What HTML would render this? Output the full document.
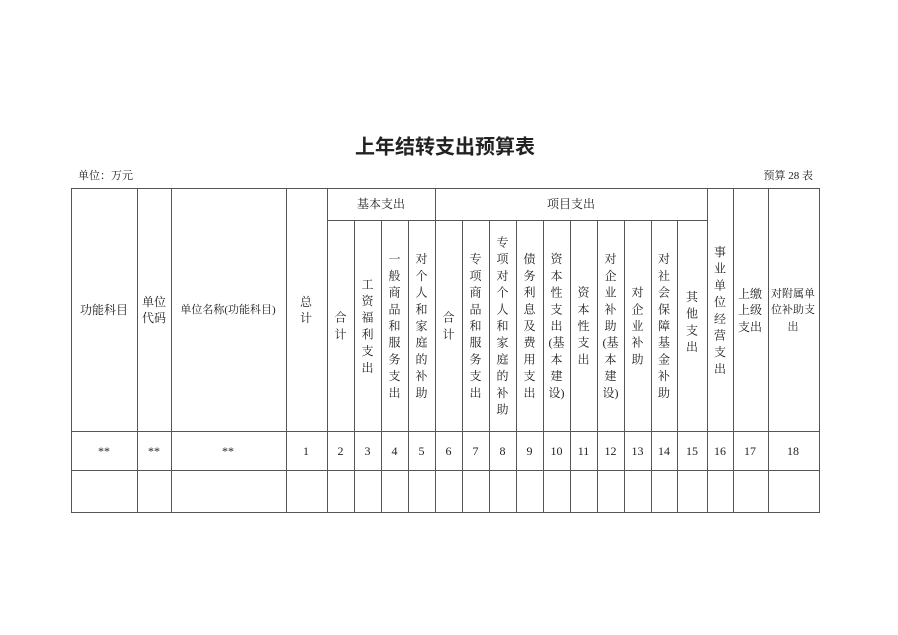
<!DOCTYPE html>
<html><head><meta charset="utf-8"><style>
body{margin:0;background:#fff;}
svg{display:block;}
text{font-family:"Liberation Serif","Noto Serif CJK SC",serif;fill:#222;}
</style></head><body>
<svg width="898" height="635" viewBox="0 0 898 635" xmlns="http://www.w3.org/2000/svg">
<text x="445" y="145" font-size="20" font-weight="bold" text-anchor="middle" dominant-baseline="central" style="font-family:'Noto Sans CJK SC',sans-serif">上年结转支出预算表</text>
<text x="78" y="176" font-size="11" dominant-baseline="central">单位：万元</text>
<text x="813" y="176" font-size="11" text-anchor="end" dominant-baseline="central">预算 28 表</text>
<g stroke="#555" stroke-width="1" fill="none">
<rect x="71.5" y="188.5" width="748" height="324"/>
<line x1="327.5" y1="220.5" x2="707.5" y2="220.5"/>
<line x1="71" y1="431.5" x2="820" y2="431.5"/>
<line x1="71" y1="470.5" x2="820" y2="470.5"/>
<line x1="137.5" y1="188" x2="137.5" y2="513"/>
<line x1="171.5" y1="188" x2="171.5" y2="513"/>
<line x1="286.5" y1="188" x2="286.5" y2="513"/>
<line x1="327.5" y1="188" x2="327.5" y2="513"/>
<line x1="435.5" y1="188" x2="435.5" y2="513"/>
<line x1="707.5" y1="188" x2="707.5" y2="513"/>
<line x1="733.5" y1="188" x2="733.5" y2="513"/>
<line x1="768.5" y1="188" x2="768.5" y2="513"/>
<line x1="354.5" y1="220" x2="354.5" y2="513"/>
<line x1="381.5" y1="220" x2="381.5" y2="513"/>
<line x1="408.5" y1="220" x2="408.5" y2="513"/>
<line x1="462.5" y1="220" x2="462.5" y2="513"/>
<line x1="489.5" y1="220" x2="489.5" y2="513"/>
<line x1="516.5" y1="220" x2="516.5" y2="513"/>
<line x1="543.5" y1="220" x2="543.5" y2="513"/>
<line x1="570.5" y1="220" x2="570.5" y2="513"/>
<line x1="597.5" y1="220" x2="597.5" y2="513"/>
<line x1="624.5" y1="220" x2="624.5" y2="513"/>
<line x1="651.5" y1="220" x2="651.5" y2="513"/>
<line x1="677.5" y1="220" x2="677.5" y2="513"/>
</g>
<g font-size="12" text-anchor="middle" dominant-baseline="central">
<text x="104" y="310">功能科目</text>
<text x="154" y="302">单位</text><text x="154" y="318">代码</text>
<text x="228" y="310" font-size="11">单位名称(功能科目)</text>
<text x="306" y="302">总</text><text x="306" y="318">计</text>
<text x="381" y="204">基本支出</text>
<text x="571" y="204">项目支出</text>
<text x="750" y="294">上缴</text><text x="750" y="310">上级</text><text x="750" y="327">支出</text>
<text x="793" y="294" font-size="11">对附属单</text><text x="793" y="310" font-size="11">位补助支</text><text x="793" y="327" font-size="11">出</text>
</g>
<g font-size="12" text-anchor="middle" dominant-baseline="central">
<text y="317.7"><tspan x="340.5">合</tspan><tspan x="340.5" dy="16.7">计</tspan></text>
<text y="284.3"><tspan x="367.5">工</tspan><tspan x="367.5" dy="16.7">资</tspan><tspan x="367.5" dy="16.7">福</tspan><tspan x="367.5" dy="16.7">利</tspan><tspan x="367.5" dy="16.7">支</tspan><tspan x="367.5" dy="16.7">出</tspan></text>
<text y="259.2"><tspan x="394.5">一</tspan><tspan x="394.5" dy="16.7">般</tspan><tspan x="394.5" dy="16.7">商</tspan><tspan x="394.5" dy="16.7">品</tspan><tspan x="394.5" dy="16.7">和</tspan><tspan x="394.5" dy="16.7">服</tspan><tspan x="394.5" dy="16.7">务</tspan><tspan x="394.5" dy="16.7">支</tspan><tspan x="394.5" dy="16.7">出</tspan></text>
<text y="259.2"><tspan x="421.5">对</tspan><tspan x="421.5" dy="16.7">个</tspan><tspan x="421.5" dy="16.7">人</tspan><tspan x="421.5" dy="16.7">和</tspan><tspan x="421.5" dy="16.7">家</tspan><tspan x="421.5" dy="16.7">庭</tspan><tspan x="421.5" dy="16.7">的</tspan><tspan x="421.5" dy="16.7">补</tspan><tspan x="421.5" dy="16.7">助</tspan></text>
<text y="317.7"><tspan x="448.5">合</tspan><tspan x="448.5" dy="16.7">计</tspan></text>
<text y="259.2"><tspan x="475.5">专</tspan><tspan x="475.5" dy="16.7">项</tspan><tspan x="475.5" dy="16.7">商</tspan><tspan x="475.5" dy="16.7">品</tspan><tspan x="475.5" dy="16.7">和</tspan><tspan x="475.5" dy="16.7">服</tspan><tspan x="475.5" dy="16.7">务</tspan><tspan x="475.5" dy="16.7">支</tspan><tspan x="475.5" dy="16.7">出</tspan></text>
<text y="242.5"><tspan x="502.5">专</tspan><tspan x="502.5" dy="16.7">项</tspan><tspan x="502.5" dy="16.7">对</tspan><tspan x="502.5" dy="16.7">个</tspan><tspan x="502.5" dy="16.7">人</tspan><tspan x="502.5" dy="16.7">和</tspan><tspan x="502.5" dy="16.7">家</tspan><tspan x="502.5" dy="16.7">庭</tspan><tspan x="502.5" dy="16.7">的</tspan><tspan x="502.5" dy="16.7">补</tspan><tspan x="502.5" dy="16.7">助</tspan></text>
<text y="259.2"><tspan x="529.5">债</tspan><tspan x="529.5" dy="16.7">务</tspan><tspan x="529.5" dy="16.7">利</tspan><tspan x="529.5" dy="16.7">息</tspan><tspan x="529.5" dy="16.7">及</tspan><tspan x="529.5" dy="16.7">费</tspan><tspan x="529.5" dy="16.7">用</tspan><tspan x="529.5" dy="16.7">支</tspan><tspan x="529.5" dy="16.7">出</tspan></text>
<text y="259.2"><tspan x="556.5">资</tspan><tspan x="556.5" dy="16.7">本</tspan><tspan x="556.5" dy="16.7">性</tspan><tspan x="556.5" dy="16.7">支</tspan><tspan x="556.5" dy="16.7">出</tspan><tspan x="556.5" dy="16.7">(基</tspan><tspan x="556.5" dy="16.7">本</tspan><tspan x="556.5" dy="16.7">建</tspan><tspan x="556.5" dy="16.7">设)</tspan></text>
<text y="292.6"><tspan x="583.5">资</tspan><tspan x="583.5" dy="16.7">本</tspan><tspan x="583.5" dy="16.7">性</tspan><tspan x="583.5" dy="16.7">支</tspan><tspan x="583.5" dy="16.7">出</tspan></text>
<text y="259.2"><tspan x="610.5">对</tspan><tspan x="610.5" dy="16.7">企</tspan><tspan x="610.5" dy="16.7">业</tspan><tspan x="610.5" dy="16.7">补</tspan><tspan x="610.5" dy="16.7">助</tspan><tspan x="610.5" dy="16.7">(基</tspan><tspan x="610.5" dy="16.7">本</tspan><tspan x="610.5" dy="16.7">建</tspan><tspan x="610.5" dy="16.7">设)</tspan></text>
<text y="292.6"><tspan x="637.5">对</tspan><tspan x="637.5" dy="16.7">企</tspan><tspan x="637.5" dy="16.7">业</tspan><tspan x="637.5" dy="16.7">补</tspan><tspan x="637.5" dy="16.7">助</tspan></text>
<text y="259.2"><tspan x="664">对</tspan><tspan x="664" dy="16.7">社</tspan><tspan x="664" dy="16.7">会</tspan><tspan x="664" dy="16.7">保</tspan><tspan x="664" dy="16.7">障</tspan><tspan x="664" dy="16.7">基</tspan><tspan x="664" dy="16.7">金</tspan><tspan x="664" dy="16.7">补</tspan><tspan x="664" dy="16.7">助</tspan></text>
<text y="297"><tspan x="692">其</tspan><tspan x="692" dy="16.7">他</tspan><tspan x="692" dy="16.7">支</tspan><tspan x="692" dy="16.7">出</tspan></text>
<text y="252"><tspan x="720">事</tspan><tspan x="720" dy="16.7">业</tspan><tspan x="720" dy="16.7">单</tspan><tspan x="720" dy="16.7">位</tspan><tspan x="720" dy="16.7">经</tspan><tspan x="720" dy="16.7">营</tspan><tspan x="720" dy="16.7">支</tspan><tspan x="720" dy="16.7">出</tspan></text>
</g>
<g font-size="12" text-anchor="middle" dominant-baseline="central">
<text x="104" y="451">**</text><text x="154" y="451">**</text><text x="228" y="451">**</text>
<text x="306" y="451">1</text><text x="340.5" y="451">2</text><text x="367.5" y="451">3</text><text x="394.5" y="451">4</text><text x="421.5" y="451">5</text>
<text x="448.5" y="451">6</text><text x="475.5" y="451">7</text><text x="502.5" y="451">8</text><text x="529.5" y="451">9</text><text x="556.5" y="451">10</text>
<text x="583.5" y="451">11</text><text x="610.5" y="451">12</text><text x="637.5" y="451">13</text><text x="664" y="451">14</text><text x="692" y="451">15</text>
<text x="720" y="451">16</text><text x="750" y="451">17</text><text x="793" y="451">18</text>
</g>
</svg>
</body></html>
